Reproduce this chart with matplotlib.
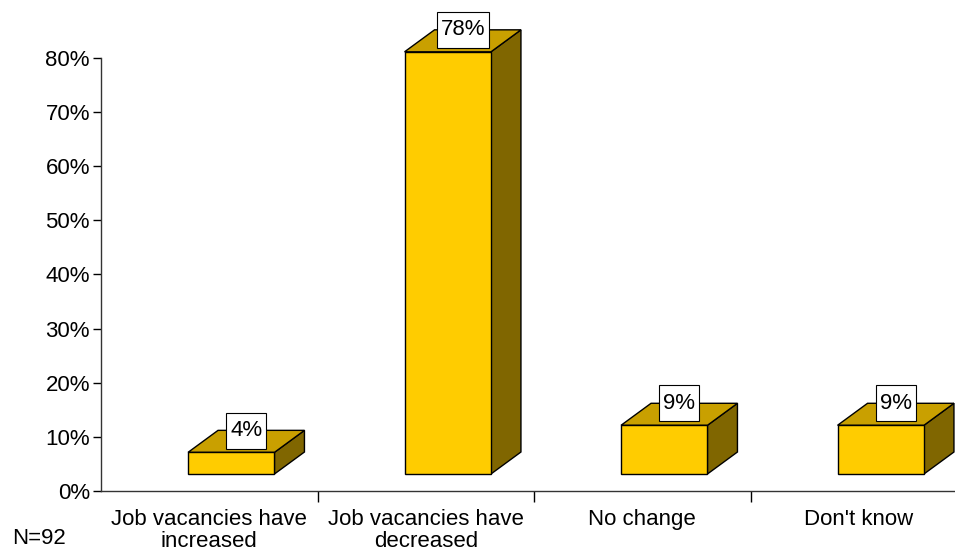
import matplotlib
matplotlib.use("Agg")
from matplotlib import pyplot as plt
from matplotlib.patches import Polygon, Rectangle
from matplotlib.transforms import IdentityTransform

plt.rcParams['font.family'] = ['Liberation Sans', 'DejaVu Sans']

categories = ["Job vacancies have\nincreased", "Job vacancies have\ndecreased",
              "No change", "Don't know"]
values = [4, 78, 9, 9]
labels = ["4%", "78%", "9%", "9%"]
yticks = [0, 10, 20, 30, 40, 50, 60, 70, 80]

front_col = "#FFCC00"
top_col = "#C9A000"
side_col = "#806600"

fig = plt.figure(figsize=(9.55, 5.52), dpi=100)
ax = fig.add_axes([101 / 955, 61 / 552, 866 / 955, 433 / 552])
ax.set_xlim(0, len(categories))
ax.set_ylim(0, 80)

# oblique 3D offsets in data units
px_x = 866 / len(categories)
px_y = 433 / 80
fx, fy = 22 / px_x, 17 / px_y      # front face shift from the floor
dx, dy = 30 / px_x, 22 / px_y      # bar depth
hw = 43.2 / px_x

texts = []
for i, v in enumerate(values):
    c = i + 0.5 + fx
    x0, x1 = c - hw, c + hw
    y0, y1 = fy, fy + v
    front = [(x0, y0), (x1, y0), (x1, y1), (x0, y1)]
    top = [(x0, y1), (x1, y1), (x1 + dx, y1 + dy), (x0 + dx, y1 + dy)]
    side = [(x1, y0), (x1 + dx, y0 + dy), (x1 + dx, y1 + dy), (x1, y1)]
    for pts, col in [(side, side_col), (top, top_col), (front, front_col)]:
        ax.add_patch(Polygon(pts, closed=True, facecolor=col, edgecolor="black",
                             linewidth=1, clip_on=False, joinstyle="miter"))
    t = ax.text(c + dx / 2, y1 + dy / 2 + 2.0, labels[i], ha="center", va="center",
                fontsize=16, clip_on=False, zorder=5)
    texts.append(t)

ax.set_yticks(yticks)
ax.set_yticklabels([f"{t}%" for t in yticks], fontsize=16)
ax.set_xticks(range(1, len(categories)))
ax.set_xticklabels([])
ax.set_xticks([i + 0.5 for i in range(len(categories))], minor=True)
ax.set_xticklabels(categories, minor=True, fontsize=16, linespacing=1.08)
ax.tick_params(axis="x", which="minor", length=0, pad=13)
ax.tick_params(axis="x", which="major", length=8, direction="out", width=1)
ax.tick_params(axis="y", length=6, width=1, pad=2)

for s in ["top", "right"]:
    ax.spines[s].set_visible(False)
for s in ["left", "bottom"]:
    ax.spines[s].set_linewidth(1)
    ax.spines[s].set_color("#333333")

fig.text(12 / 955, 1 - 538 / 552, "N=92", fontsize=16, va="center", ha="left")

# white label boxes, sized around the text in pixels, drawn under the text
fig.canvas.draw()
r = fig.canvas.get_renderer()
for t in texts:
    bb = t.get_window_extent(r)
    cx = (bb.x0 + bb.x1) / 2
    cy = (bb.y0 + bb.y1) / 2
    w = bb.width + 8
    h = 36
    box = Rectangle((cx - w / 2, cy - h / 2), w, h, transform=IdentityTransform(),
                    facecolor="white", edgecolor="black", linewidth=0.8,
                    clip_on=False, zorder=4)
    ax.add_artist(box)

fig.savefig("out.png", dpi=100)
